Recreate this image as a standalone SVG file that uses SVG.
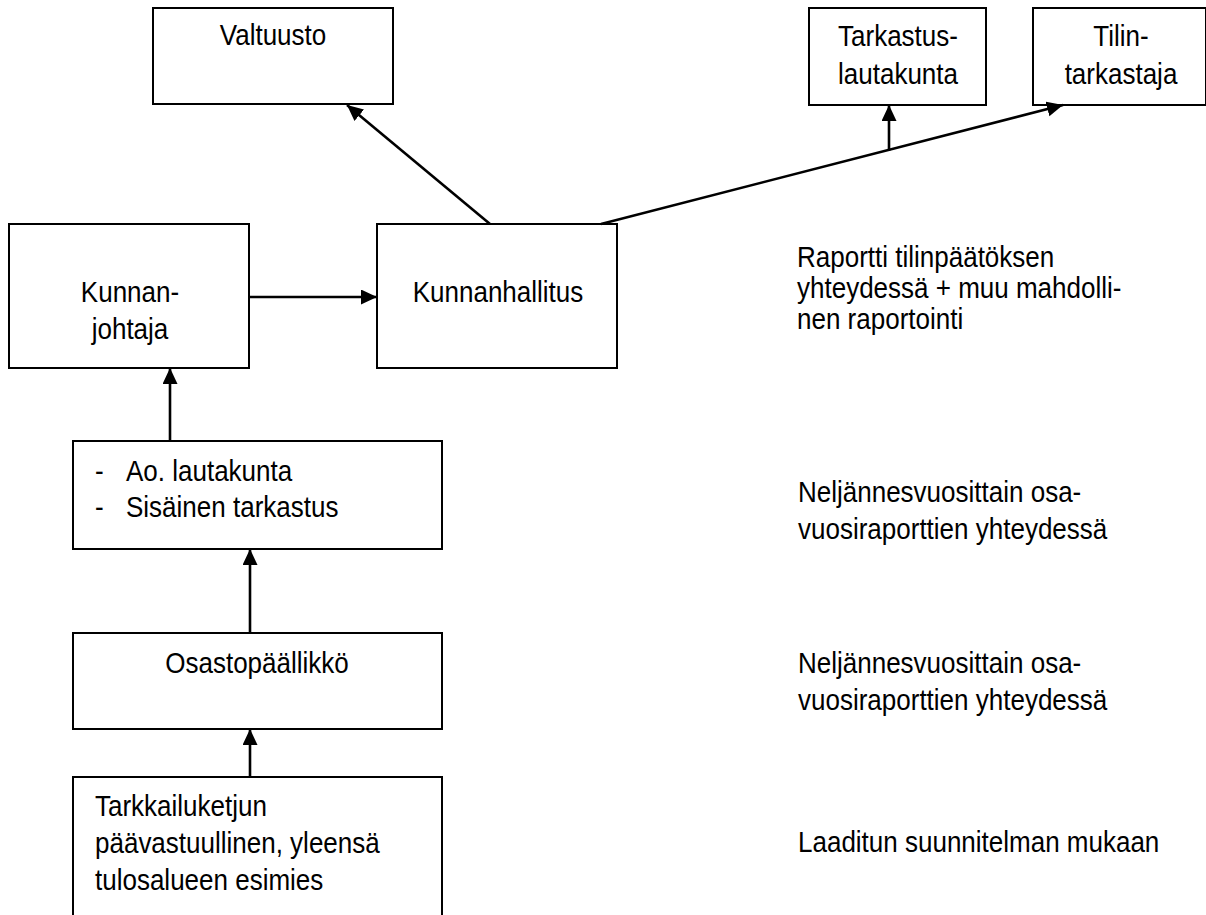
<svg xmlns="http://www.w3.org/2000/svg" width="1206" height="915" viewBox="0 0 1206 915">
<defs>
<marker id="ah" markerUnits="userSpaceOnUse" markerWidth="17" markerHeight="16" refX="16" refY="7.5" orient="auto">
<path d="M0,0 L16,7.5 L0,15 Z" fill="#000"/>
</marker>
<style>
.box{fill:#fff;stroke:#000;stroke-width:2}
.t{font-family:"Liberation Sans",Arial,sans-serif;font-size:30px;fill:#000}
.c{text-anchor:middle}
.ln{stroke:#000;stroke-width:2.6;fill:none}
.ar{marker-end:url(#ah)}
</style>
</defs>
<rect width="1206" height="915" fill="#fff"/>
<g id="valtuusto">
<rect class="box" x="153" y="8" width="240" height="96"/>
<text class="t c" transform="translate(273,45) scale(0.867,1)">Valtuusto</text>
</g>
<g id="tarkastuslautakunta">
<rect class="box" x="809" y="8" width="177" height="97"/>
<text class="t c" transform="translate(898,46) scale(0.867,1)">Tarkastus-</text>
<text class="t c" transform="translate(898,84) scale(0.867,1)">lautakunta</text>
</g>
<g id="tilintarkastaja">
<rect class="box" x="1033" y="8" width="173" height="97"/>
<text class="t c" transform="translate(1121,46) scale(0.867,1)">Tilin-</text>
<text class="t c" transform="translate(1121,84) scale(0.867,1)">tarkastaja</text>
</g>
<g id="kunnanjohtaja">
<rect class="box" x="9" y="224" width="240" height="144"/>
<text class="t c" transform="translate(130,302) scale(0.867,1)">Kunnan-</text>
<text class="t c" transform="translate(130,339) scale(0.867,1)">johtaja</text>
</g>
<g id="kunnanhallitus">
<rect class="box" x="377" y="224" width="240" height="144"/>
<text class="t c" transform="translate(498,302) scale(0.867,1)">Kunnanhallitus</text>
</g>
<g id="lautakunta">
<rect class="box" x="73" y="441" width="369" height="108"/>
<text class="t" transform="translate(95,481) scale(0.867,1)">-</text>
<text class="t" transform="translate(126,481) scale(0.867,1)">Ao. lautakunta</text>
<text class="t" transform="translate(95,517) scale(0.867,1)">-</text>
<text class="t" transform="translate(126,517) scale(0.867,1)">Sisäinen tarkastus</text>
</g>
<g id="osastopaallikko">
<rect class="box" x="73" y="633" width="369" height="96"/>
<text class="t c" transform="translate(257,673) scale(0.867,1)">Osastopäällikkö</text>
</g>
<g id="tarkkailuketju">
<rect class="box" x="73" y="777" width="369" height="160"/>
<text class="t" transform="translate(95,816) scale(0.867,1)">Tarkkailuketjun</text>
<text class="t" transform="translate(95,853) scale(0.867,1)">päävastuullinen, yleensä</text>
<text class="t" transform="translate(95,890) scale(0.867,1)">tulosalueen esimies</text>
</g>
<g id="notes">
<text class="t" transform="translate(797,267) scale(0.867,1)">Raportti tilinpäätöksen</text>
<text class="t" transform="translate(797,298) scale(0.867,1)">yhteydessä + muu mahdolli-</text>
<text class="t" transform="translate(797,329) scale(0.867,1)">nen raportointi</text>
<text class="t" transform="translate(798,502) scale(0.867,1)">Neljännesvuosittain osa-</text>
<text class="t" transform="translate(798,539) scale(0.867,1)">vuosiraporttien yhteydessä</text>
<text class="t" transform="translate(798,673) scale(0.867,1)">Neljännesvuosittain osa-</text>
<text class="t" transform="translate(798,710) scale(0.867,1)">vuosiraporttien yhteydessä</text>
<text class="t" transform="translate(798,852) scale(0.867,1)">Laaditun suunnitelman mukaan</text>
</g>
<g id="connectors">
<line class="ln ar" x1="490" y1="224" x2="347" y2="105"/>
<line class="ln ar" x1="249" y1="297" x2="377" y2="297"/>
<line class="ln ar" x1="601" y1="224" x2="1063" y2="105"/>
<line class="ln ar" x1="889" y1="151" x2="889" y2="105"/>
<line class="ln ar" x1="170" y1="441" x2="170" y2="368"/>
<line class="ln ar" x1="250" y1="633" x2="250" y2="549"/>
<line class="ln ar" x1="250" y1="777" x2="250" y2="729"/>
</g>
</svg>
